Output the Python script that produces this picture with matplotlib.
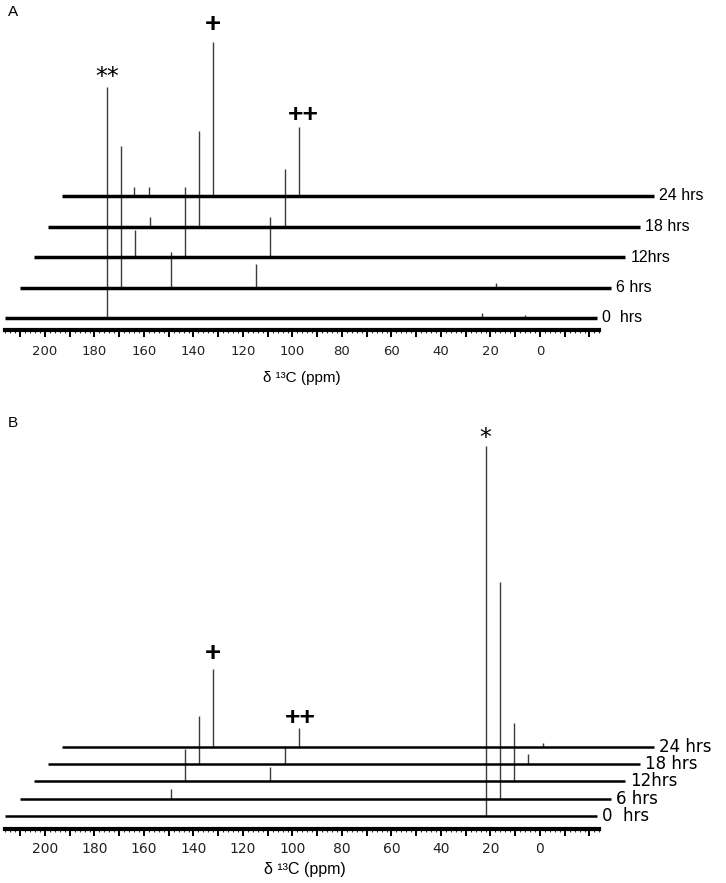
import numpy as np
import matplotlib.pyplot as plt
from matplotlib.ticker import FixedLocator, FuncFormatter

plt.rcParams['font.family'] = ['Liberation Sans', 'DejaVu Sans']

# time points, same for both panels
time_labels = ['0  hrs', '6 hrs', '12hrs', '18 hrs', '24 hrs']

# panel A: peak positions (ppm) and intensities for each time point
peaks_a_ppm = [
    [175.0, 23.5, 6.0],
    [175.0, 155.0, 120.5, 23.5],
    [175.0, 155.0, 120.5],
    [175.0, 155.0, 120.5],
    [187.0, 181.0, 155.0, 120.5],
]
peaks_a_int = [
    [231, 5, 3],
    [142, 36, 24, 5],
    [27, 70, 40],
    [10, 96, 58],
    [9, 9, 154, 69],
]

# panel B
peaks_b_ppm = [
    [22.0],
    [155.0, 22.0],
    [155.0, 120.5, 22.0],
    [155.0, 120.5, 22.0],
    [155.0, 120.5, 22.0],
]
peaks_b_int = [
    [370],
    [10, 217],
    [32, 14, 58],
    [48, 18, 10],
    [78, 19, 4],
]

# spectral window of each trace
ppm_start, ppm_end = 216.0, -23.0

# layout
W, H = 726, 883
px_per_ppm = 2.475
zero_px = 540
shift_ppm = 14.25 / px_per_ppm   # each trace slides right
xlim = (zero_px / px_per_ppm, (zero_px - W) / px_per_ppm)


def draw_panel(ax, ppm_list, int_list, base0, step, lw_base, lab_font, lab_size,
               tick_size, tick_pad):
    for k, (ppm, inten) in enumerate(zip(ppm_list, int_list)):
        dx = k * shift_ppm
        y0 = base0 + k * step
        ax.plot([ppm_start - dx, ppm_end - dx], [y0, y0], color='black',
                lw=lw_base, solid_capstyle='butt', zorder=3)
        ax.vlines(np.array(ppm) - dx, y0, y0 + np.array(inten),
                  color='#3c3c3c', lw=1.0, zorder=2)
        ax.text(ppm_end - dx - 2.0, y0, time_labels[k], ha='left', va='center',
                fontsize=lab_size, family=lab_font)

    ax.set_xlim(*xlim)
    for s in ['left', 'right', 'top']:
        ax.spines[s].set_visible(False)
    ax.spines['bottom'].set_linewidth(3.0)
    ax.spines['bottom'].set_bounds(-24, 216)
    ax.set_yticks([])
    ax.xaxis.set_major_locator(FixedLocator(np.arange(-20, 211, 10)))
    ax.xaxis.set_minor_locator(FixedLocator(np.arange(-24, 217, 2)))
    ax.xaxis.set_major_formatter(FuncFormatter(
        lambda v, p: '%d' % v if (v >= 0 and v % 20 == 0) else ''))
    ax.tick_params(axis='x', which='major', length=5, width=1.4,
                   labelsize=tick_size, pad=tick_pad)
    ax.tick_params(axis='x', which='minor', length=2, width=0.6)
    for t in ax.get_xticklabels():
        t.set_family('DejaVu Sans')
        t.set_color('#222222')


fig = plt.figure(figsize=(W / 100, H / 100), dpi=100)

# panel A: axis line at y=330 px
axA = fig.add_axes([0, 1 - 330 / H, 1, 330 / H])
axA.set_ylim(0, 330)
draw_panel(axA, peaks_a_ppm, peaks_a_int, 12, 30.5, 2.5,
           'Liberation Sans', 11.5, 9.5, 5.5)
axA.set_xlabel('δ ¹³C (ppm)', fontsize=11)
axA.xaxis.set_label_coords(302 / W, -41 / 330)

# annotations on panel A, anchored to peak tops
axA.annotate('**', xy=(175.0, 12 + 231), xytext=(0, 7), textcoords='offset points',
             ha='center', va='center', fontsize=17, family='DejaVu Sans')
axA.annotate('+', xy=(155.0 - 4 * shift_ppm, 134 + 154), xytext=(0, 12),
             textcoords='offset points', ha='center', va='center',
             fontsize=20, family='Liberation Sans', fontweight='bold')
axA.annotate('++', xy=(120.5 - 4 * shift_ppm, 134 + 69), xytext=(3, 9),
             textcoords='offset points', ha='center', va='center',
             fontsize=19, family='Liberation Sans', fontweight='bold')
fig.text(8 / W, 1 - 12 / H, 'A', fontsize=11, ha='left', va='center')

# panel B: axis line at y=829 px
axB = fig.add_axes([0, 1 - 829 / H, 1, 429 / H])
axB.set_ylim(0, 429)
draw_panel(axB, peaks_b_ppm, peaks_b_int, 13, 17.3, 1.8,
           'DejaVu Sans', 12, 10, 4.5)
axB.set_xlabel('δ ¹³C (ppm)', fontsize=11.5)
axB.xaxis.set_label_coords(305 / W, -33 / 429)

axB.annotate('*', xy=(22.0, 13 + 370), xytext=(0, 6), textcoords='offset points',
             ha='center', va='center', fontsize=17, family='DejaVu Sans')
axB.annotate('+', xy=(155.0 - 4 * shift_ppm, 82 + 78), xytext=(0, 11),
             textcoords='offset points', ha='center', va='center',
             fontsize=20, family='Liberation Sans', fontweight='bold')
axB.annotate('++', xy=(120.5 - 4 * shift_ppm, 82 + 19), xytext=(1, 7),
             textcoords='offset points', ha='center', va='center',
             fontsize=19, family='Liberation Sans', fontweight='bold')
fig.text(8 / W, 1 - 423 / H, 'B', fontsize=11, ha='left', va='center')

fig.savefig('out.png', dpi=100)
